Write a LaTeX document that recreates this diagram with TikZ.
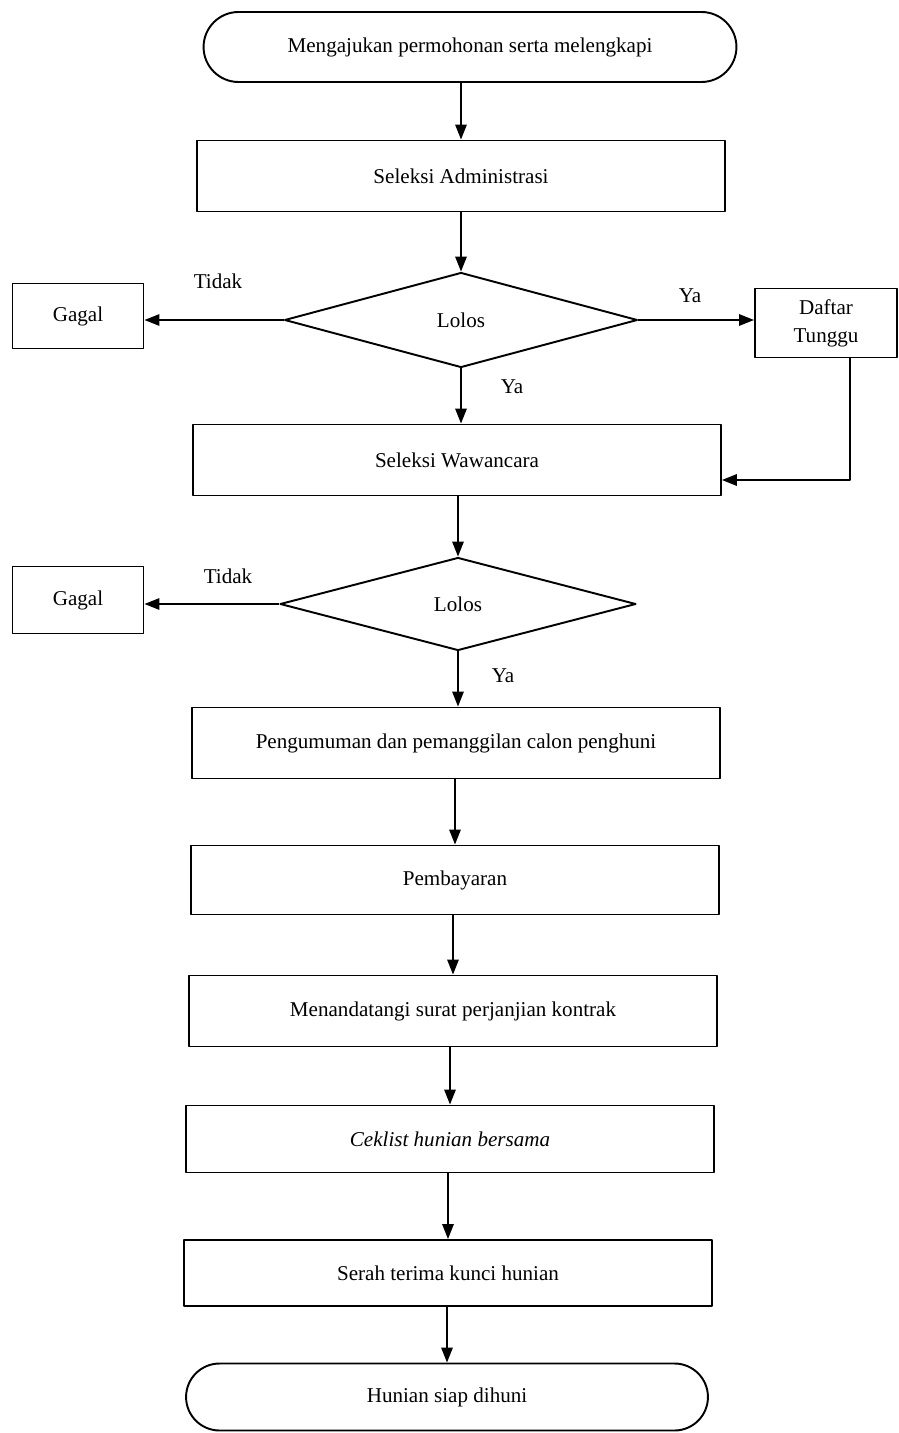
\documentclass[tikz,border=0pt]{standalone}
\usepackage{fontspec}
\setmainfont{Liberation Serif}
\usepackage{tikz}
\usetikzlibrary{arrows.meta,positioning,shapes.geometric,shapes.misc}
\tikzset{
  fc diagram/.style={font=\fontsize{12}{14}\selectfont, text=black,
    line join=round, x=0.02cm, y=-0.02cm},
  fc box/.style={draw, line width=1.1pt, rectangle, align=center,
    minimum width=10.56cm, minimum height=1.42cm, inner sep=2pt},
  fc side box/.style={fc box, minimum width=2.62cm, minimum height=1.3cm},
  fc terminal/.style={fc box, rounded rectangle, rounded rectangle arc length=180},
  fc decision/.style={draw, line width=1.1pt, diamond, inner sep=0pt,
    minimum width=7.06cm, minimum height=1.9cm},
  fc arrow/.style={-{Triangle[length=3mm,width=2.3mm]}, line width=0.9pt},
  fc label/.style={inner sep=1pt}
}
\begin{document}
\begin{tikzpicture}[fc diagram]
\useasboundingbox (0,0) rectangle (899,1433);
\node[fc terminal, minimum width=10.8cm, minimum height=1.4cm] (start) at (470,47) {Mengajukan permohonan serta melengkapi};
\node[fc box] (admin) at (461,176) {Seleksi Administrasi};
\node[fc decision] (lolos1) at (461,320) {Lolos};
\node[fc side box] (gagal1) at (78,316) {Gagal};
\node[fc side box, minimum width=2.84cm, minimum height=1.38cm] (tunggu) at (826,323) {Daftar\\[2pt]Tunggu};
\node[fc box] (wawancara) at (457,460) {Seleksi Wawancara};
\node[fc decision, minimum width=7.12cm, minimum height=1.86cm] (lolos2) at (458,604) {Lolos};
\node[fc side box, minimum height=1.34cm] (gagal2) at (78,600) {Gagal};
\node[fc box] (umum) at (456,743) {Pengumuman dan pemanggilan calon penghuni};
\node[fc box, minimum height=1.38cm] (bayar) at (455,880) {Pembayaran};
\node[fc box] (kontrak) at (453,1011) {Menandatangi surat perjanjian kontrak};
\node[fc box, minimum height=1.34cm] (ceklist) at (450,1139) {\itshape Ceklist hunian bersama};
\node[fc box, minimum height=1.32cm] (kunci) at (448,1273) {Serah terima kunci hunian};
\node[fc terminal, minimum width=10.58cm, minimum height=1.34cm] (selesai) at (447,1397) {Hunian siap dihuni};

\node[fc label] (tidak1) at (218,281) {Tidak};
\node[fc label] (ya1) at (690,296) {Ya};
\node[fc label] (ya2) at (512,387) {Ya};
\node[fc label] (tidak2) at (228,576) {Tidak};
\node[fc label] (ya3) at (503,676) {Ya};

\draw[fc arrow] (admin.north |- start.south) -- (admin.north);
\draw[fc arrow] (lolos1.north |- admin.south) -- (lolos1.north);
\draw[fc arrow] (lolos1.west) -- (lolos1.west -| gagal1.east);
\draw[fc arrow] (lolos1.east) -- (lolos1.east -| tunggu.west);
\draw[fc arrow] (lolos1.south) -- (lolos1.south |- wawancara.north);
\draw[fc arrow] ([xshift=0.48cm]tunggu.south) |- ([yshift=-0.4cm]wawancara.east);
\draw[fc arrow] (lolos2.north |- wawancara.south) -- (lolos2.north);
\draw[fc arrow] (lolos2.west) -- (lolos2.west -| gagal2.east);
\draw[fc arrow] (lolos2.south) -- (lolos2.south |- umum.north);
\draw[fc arrow] (bayar.north |- umum.south) -- (bayar.north);
\draw[fc arrow] (kontrak.north |- bayar.south) -- (kontrak.north);
\draw[fc arrow] (ceklist.north |- kontrak.south) -- (ceklist.north);
\draw[fc arrow] (kunci.north |- ceklist.south) -- (kunci.north);
\draw[fc arrow] (selesai.north |- kunci.south) -- (selesai.north);
\end{tikzpicture}
\end{document}
